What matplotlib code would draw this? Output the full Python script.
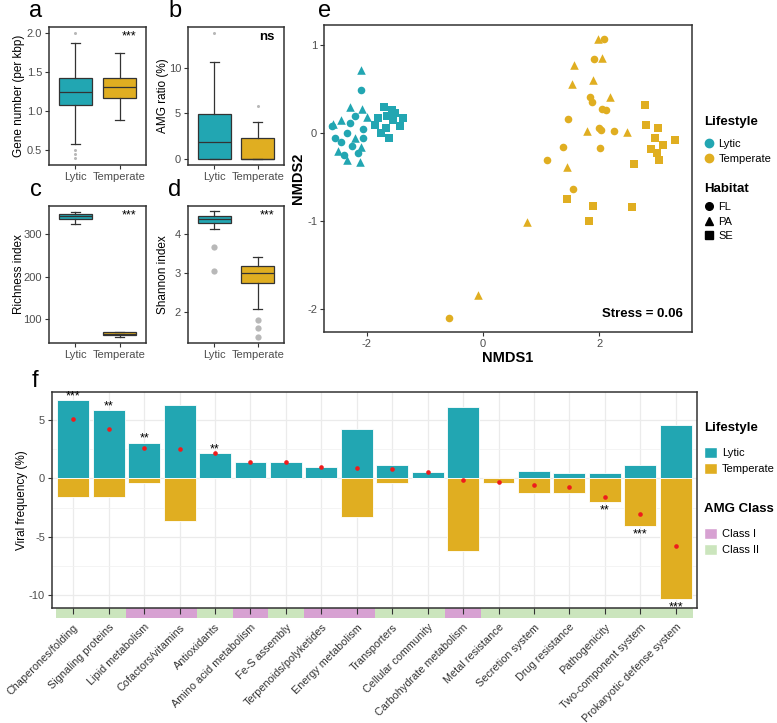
import numpy as np
import matplotlib.pyplot as plt
from matplotlib.patches import Patch
from matplotlib.lines import Line2D

plt.rcParams['font.family'] = ['Liberation Sans', 'DejaVu Sans']
plt.rcParams['axes.unicode_minus'] = False

W, H = 777, 723
teal = '#22a6b2'
gold = '#e0ae21'
grey_pt = '#b8b8b8'
dark = '#333333'

groups = ['Lytic', 'Temperate']

# box stats: [whislo, q1, median, q3, whishi]
gene_box = [[0.58, 1.08, 1.24, 1.43, 1.88], [0.89, 1.17, 1.31, 1.42, 1.75]]
gene_out = [[2.0, 0.5, 0.45, 0.4], []]
amg_box = [[0.0, 0.0, 1.83, 4.9, 10.7], [0.0, 0.0, 0.0, 2.3, 4.05]]
amg_out = [[13.8], [5.85]]
rich_box = [[324, 336, 341.5, 347, 353], [58.5, 62, 65, 68.7, 69.5]]
rich_out = [[], []]
shan_box = [[4.13, 4.28, 4.38, 4.46, 4.59], [2.09, 2.76, 3.02, 3.19, 3.41]]
shan_out = [[3.67, 3.07], [1.81, 1.60, 1.38]]

# NMDS coordinates
lyt_fl_x = [-2.10, -2.07, -2.07, -2.35, -2.45, -2.25, -2.55, -2.30, -2.40, -2.15, -2.20, -2.60]
lyt_fl_y = [0.49, 0.05, -0.06, 0.00, -0.10, -0.15, -0.05, 0.12, -0.25, -0.22, 0.20, 0.08]
lyt_pa_x = [-2.10, -2.08, -2.10, -2.12, -2.58, -2.30, -2.45, -2.20, -2.35, -2.50, -2.00]
lyt_pa_y = [0.72, 0.27, -0.16, -0.33, 0.10, 0.30, 0.15, -0.05, -0.30, -0.20, 0.18]
lyt_se_x = [-1.71, -1.57, -1.52, -1.38, -1.81, -1.86, -1.67, -1.43, -1.62, -1.55, -1.66, -1.75]
lyt_se_y = [0.30, 0.26, 0.23, 0.17, 0.17, 0.09, 0.06, 0.08, -0.05, 0.15, 0.20, 0.00]
tem_fl_x = [2.09, 1.91, 1.84, 1.88, 2.05, 2.12, 1.47, 2.00, 2.03, 2.26, 1.38, 2.02, 1.10, 1.55, -0.59]
tem_fl_y = [1.07, 0.84, 0.41, 0.35, 0.27, 0.26, 0.16, 0.06, 0.04, 0.02, -0.16, -0.17, -0.30, -0.64, -2.10]
tem_pa_x = [1.98, 2.05, 1.57, 1.53, 1.90, 2.19, 1.79, 2.48, 1.45, 0.76, -0.09]
tem_pa_y = [1.07, 0.86, 0.77, 0.56, 0.60, 0.41, 0.03, 0.01, -0.38, -1.01, -1.84]
tem_se_x = [2.79, 2.81, 3.02, 2.97, 3.31, 3.10, 2.90, 3.00, 3.03, 2.60, 1.45, 1.90, 2.57, 1.83]
tem_se_y = [0.32, 0.09, 0.06, -0.05, -0.08, -0.13, -0.18, -0.23, -0.30, -0.35, -0.75, -0.83, -0.84, -1.00]

# panel f
cats = ['Chaperones/folding', 'Signaling proteins', 'Lipid metabolism', 'Cofactors/vitamins',
        'Antioxidants', 'Amino acid metabolism', 'Fe-S assembly', 'Terpenoids/polyketides',
        'Energy metabolism', 'Transporters', 'Cellular community', 'Carbohydrate metabolism',
        'Metal resistance', 'Secretion system', 'Drug resistance', 'Pathogenicity',
        'Two-component system', 'Prokaryotic defense system']
lytic = [6.72, 5.86, 3.07, 6.29, 2.18, 1.44, 1.41, 0.95, 4.22, 1.18, 0.55, 6.15,
         0.06, 0.66, 0.49, 0.49, 1.12, 4.60]
temperate = [-1.61, -1.61, -0.37, -3.68, 0.0, 0.0, 0.0, 0.0, -3.30, -0.37, 0.0, -6.18,
             -0.37, -1.23, -1.23, -2.04, -4.11, -10.34]
net = [5.06, 4.22, 2.64, 2.56, 2.18, 1.44, 1.41, 0.95, 0.92, 0.78, 0.54, -0.09,
       -0.32, -0.57, -0.75, -1.58, -3.02, -5.78]
stars = ['***', '**', '**', '', '**', '', '', '', '', '', '', '',
         '', '', '', '**', '***', '***']
amg_class = ['II', 'II', 'I', 'I', 'II', 'I', 'II', 'I', 'I', 'II', 'II', 'I',
             'II', 'II', 'II', 'II', 'II', 'II']
class_col = {'I': '#d7a1d2', 'II': '#cbe5bd'}


def rect(l, t, r, b):
    return [l / W, 1 - b / H, (r - l) / W, (b - t) / H]


def style(ax):
    for s in ax.spines.values():
        s.set_color(dark)
        s.set_linewidth(1.1)
    ax.tick_params(direction='out', length=3, width=0.8, color=dark,
                   labelcolor='#4d4d4d', labelsize=8, pad=2)


fig = plt.figure(figsize=(W / 100, H / 100), dpi=100)


def boxpanel(r, box, out, ylim, yticks, ylabel, star, letter, fsize, labx, bold=False):
    ax = fig.add_axes(rect(*r))
    st = [dict(whislo=b[0], q1=b[1], med=b[2], q3=b[3], whishi=b[4], fliers=o)
          for b, o in zip(box, out)]
    bp = ax.bxp(st, positions=[1, 2], widths=0.75, patch_artist=True, capwidths=0.2,
                boxprops=dict(edgecolor=dark, linewidth=0.9),
                whiskerprops=dict(color=dark, linewidth=0.9),
                capprops=dict(color=dark, linewidth=0.9),
                medianprops=dict(color=dark, linewidth=0.9),
                flierprops=dict(marker='o', markerfacecolor=grey_pt,
                                markeredgecolor='none', markersize=fsize))
    for patch, c in zip(bp['boxes'], [teal, gold]):
        patch.set_facecolor(c)
    ax.set_xlim(0.4, 2.6)
    ax.set_ylim(*ylim)
    ax.set_yticks(yticks)
    ax.set_xticks([1, 2], groups)
    ax.set_ylabel(ylabel, fontsize=8.5, color='black')
    ax.yaxis.set_label_coords(labx, 0.5)
    style(ax)
    ax.text(0.9, 0.93, star, transform=ax.transAxes, ha='right', va='center',
            fontsize=9.5 if bold else 9, fontweight='bold' if bold else 'normal')
    fig.text((r[0] - 13) / W, 1 - (r[1] - 16) / H, letter, fontsize=17,
             ha='center', va='center')
    return ax


boxpanel((49, 27, 146, 165), gene_box, gene_out, (0.31, 2.08), [0.5, 1.0, 1.5, 2.0],
         'Gene number (per kbp)', '***', 'a', 2.2, -0.25)
boxpanel((188, 27, 284, 165), amg_box, amg_out, (-0.66, 14.5), [0, 5, 10],
         'AMG ratio (%)', 'ns', 'b', 2.2, -0.2, bold=True)
boxpanel((49, 206, 146, 343), rich_box, rich_out, (43.5, 366), [100, 200, 300],
         'Richness index', '***', 'c', 4.5, -0.25)
boxpanel((188, 206, 284, 343), shan_box, shan_out, (1.22, 4.72), [2, 3, 4],
         'Shannon index', '***', 'd', 4.5, -0.2)

# panel e
ax = fig.add_axes(rect(324, 25, 692, 332))
for xs, ys, c in [(lyt_fl_x, lyt_fl_y, teal), (tem_fl_x, tem_fl_y, gold)]:
    ax.scatter(xs, ys, marker='o', s=30, color=c, linewidths=0)
for xs, ys, c in [(lyt_pa_x, lyt_pa_y, teal), (tem_pa_x, tem_pa_y, gold)]:
    ax.scatter(xs, ys, marker='^', s=38, color=c, linewidths=0)
for xs, ys, c in [(lyt_se_x, lyt_se_y, teal), (tem_se_x, tem_se_y, gold)]:
    ax.scatter(xs, ys, marker='s', s=30, color=c, linewidths=0)
ax.set_xlim(-2.74, 3.6)
ax.set_ylim(-2.26, 1.23)
ax.set_xticks([-2, 0, 2])
ax.set_yticks([-2, -1, 0, 1])
style(ax)
ax.set_xlabel('NMDS1', fontsize=10.5, fontweight='bold')
ax.set_ylabel('NMDS2', fontsize=10.5, fontweight='bold')
ax.xaxis.set_label_coords(0.5, -0.062)
ax.yaxis.set_label_coords(-0.052, 0.5)
ax.text(0.975, 0.06, 'Stress = 0.06', transform=ax.transAxes, ha='right', va='center',
        fontsize=9.5, fontweight='bold')
fig.text(325 / W, 1 - 11 / H, 'e', fontsize=17, ha='center', va='center')

leg_kw = dict(loc='upper left', frameon=False, alignment='left', borderpad=0,
              borderaxespad=0, fontsize=8, handletextpad=0.4,
              title_fontproperties={'weight': 'bold', 'size': 9.5})


def add_legend(handles, labels, title, top, gap, **kw):
    leg = fig.legend(handles, labels, title=title, bbox_to_anchor=(704 / W, 1 - top / H),
                     **leg_kw, **kw)
    leg._legend_box.sep = gap
    return leg


life_h = [Line2D([], [], marker='o', ls='', color=c, markersize=6) for c in [teal, gold]]
add_legend(life_h, groups, 'Lifestyle', 116, 8, handlelength=0.9, labelspacing=0.42)
hab_h = [Line2D([], [], marker=m, ls='', color='black', markersize=5.5) for m in ['o', '^', 's']]
add_legend(hab_h, ['FL', 'PA', 'SE'], 'Habitat', 183, 5, handlelength=0.9, labelspacing=0.42)

# panel f
x = np.arange(len(cats))
ax_s = fig.add_axes(rect(52, 608, 697, 618))
ax_s.bar(x, 1, width=1, color=[class_col[c] for c in amg_class], linewidth=0)
ax_s.set_xlim(-0.6, len(cats) - 0.4)
ax_s.set_ylim(0, 1)
ax_s.set_yticks([])
for s in ax_s.spines.values():
    s.set_visible(False)
ax_s.set_xticks(x, cats, rotation=45, ha='right', va='top', rotation_mode='anchor')
ax_s.tick_params(length=0, labelsize=7.8, labelcolor='#333333', pad=3)

ax = fig.add_axes(rect(52, 392, 697, 608))
ax.set_zorder(3)
ax.set_axisbelow(True)
ax.grid(True, which='major', color='#ebebeb', linewidth=0.9)
ax.set_yticks([-7.5, -2.5, 2.5], minor=True)
ax.grid(True, which='minor', axis='y', color='#f2f2f2', linewidth=0.6)
ax.bar(x, lytic, width=0.9, color=teal, edgecolor='white', linewidth=0.6)
ax.bar(x, temperate, width=0.9, color=gold, edgecolor='white', linewidth=0.6)
ax.scatter(x, net, s=11, color='#ee1c1c', zorder=3, linewidths=0)
for i, s in enumerate(stars):
    if not s:
        continue
    if net[i] > 0:
        ax.annotate(s, (x[i], lytic[i]), xytext=(0, -1.5), textcoords='offset points',
                    ha='center', va='bottom', fontsize=9)
    else:
        ax.annotate(s, (x[i], temperate[i]), xytext=(0, -1.5), textcoords='offset points',
                    ha='center', va='top', fontsize=9)
ax.set_xlim(-0.6, len(cats) - 0.4)
ax.set_ylim(-11.1, 7.41)
ax.set_yticks([-10, -5, 0, 5])
ax.set_xticks(x, [''] * len(cats))
style(ax)
ax.tick_params(axis='x', length=4)
ax.tick_params(axis='y', which='minor', length=0)
ax.set_ylabel('Viral frequency (%)', fontsize=8.5)
ax.yaxis.set_label_coords(-0.037, 0.5)
fig.text(35 / W, 1 - 381 / H, 'f', fontsize=17, ha='center', va='center')

lf_h = [Patch(facecolor=c, edgecolor='white') for c in [teal, gold]]
add_legend(lf_h, groups, 'Lifestyle', 422, 9, handlelength=1.2, handleheight=1.2,
           labelspacing=0.42)
cl_h = [Patch(facecolor=class_col[c], edgecolor='white') for c in ['I', 'II']]
add_legend(cl_h, ['Class I', 'Class II'], 'AMG Class', 503, 9, handlelength=1.2,
           handleheight=1.2, labelspacing=0.42)

fig.savefig('out.png', dpi=100)
